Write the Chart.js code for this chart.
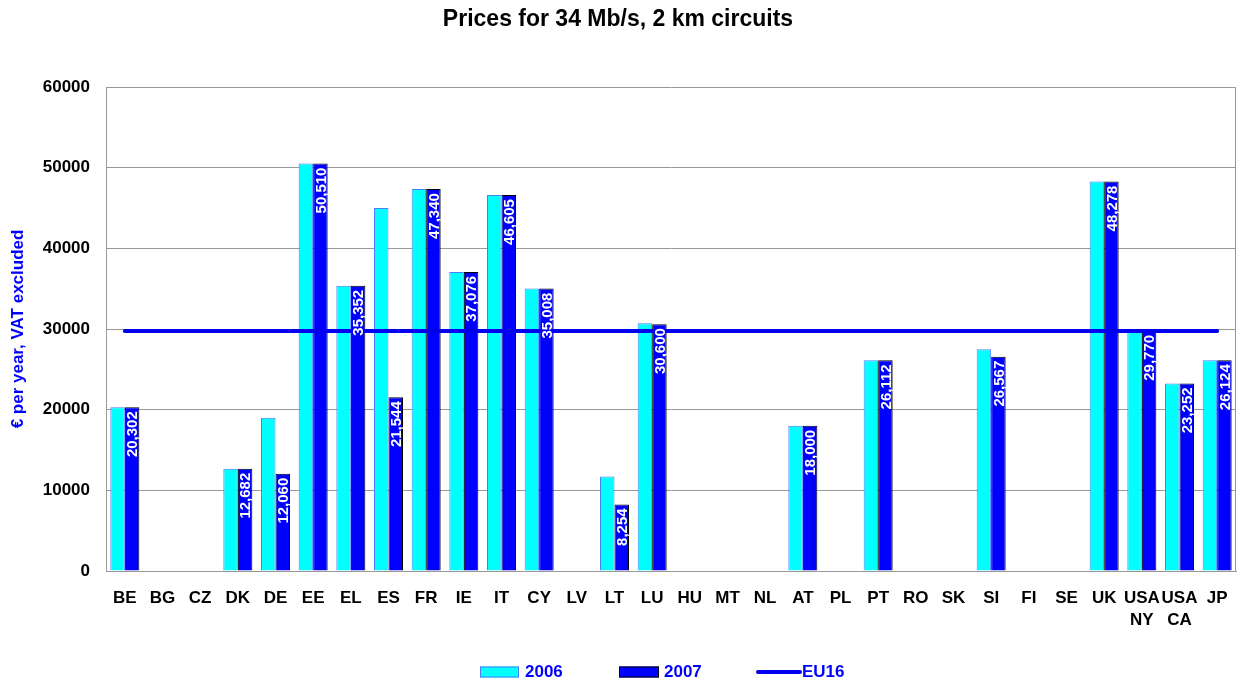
<!DOCTYPE html>
<html>
<head>
<meta charset="utf-8">
<title>Prices for 34 Mb/s, 2 km circuits</title>
<script src="https://cdn.jsdelivr.net/npm/chart.js@4.4.1/dist/chart.umd.min.js"></script>
<style>
    html, body { margin: 0; padding: 0; background: #ffffff; }
    #wrap { width: 1237px; height: 684px; }
</style>
</head>
<body>
<div id="wrap"><canvas id="priceChart"></canvas></div>
<script>
// ================================
// Data
// ================================

const categories = ["BE", "BG", "CZ", "DK", "DE", "EE", "EL", "ES", "FR", "IE", "IT", "CY", "LV", "LT", "LU",
    "HU", "MT", "NL", "AT", "PL", "PT", "RO", "SK", "SI", "FI", "SE", "UK", ["USA", "NY"], ["USA", "CA"], "JP"];

const prices2006 = [20302, null, null, 12682, 19000, 50510, 35352, 45000, 47340, 37076, 46605, 35008, null, 11700, 30700,
    null, null, null, 18000, null, 26112, null, null, 27500, null, null, 48278, 29770, 23252, 26124];

const prices2007 = [20302, null, null, 12682, 12060, 50510, 35352, 21544, 47340, 37076, 46605, 35008, null, 8254, 30600,
    null, null, null, 18000, null, 26112, null, null, 26567, null, null, 48278, 29770, 23252, 26124];

const eu16 = [29750, 29750, 29750, 29750, 29750, 29750, 29750, 29750, 29750, 29750, 29750, 29750, 29750, 29750, 29750,
    29750, 29750, 29750, 29750, 29750, 29750, 29750, 29750, 29750, 29750, 29750, 29750, 29750, 29750, 29750];

const yTicks = [0, 10000, 20000, 30000, 40000, 50000, 60000];

const FONT = "'Liberation Sans', Arial, Helvetica, sans-serif";

// ================================
// Plugins
// ================================

// white rotated value labels inside the 2007 bars
const barLabels = {
    id: "barLabels",
    afterDatasetsDraw(chart) {
        const ctx = chart.ctx;
        const meta = chart.getDatasetMeta(1);
        ctx.save();
        ctx.fillStyle = "#ffffff";
        ctx.font = "bold 15px " + FONT;
        ctx.textAlign = "right";
        ctx.textBaseline = "middle";
        meta.data.forEach((bar, i) => {
            const v = prices2007[i];
            if (v === null) return;
            ctx.save();
            ctx.translate(bar.x + 1, bar.y + 4);
            ctx.rotate(-Math.PI / 2);
            ctx.fillText(v.toLocaleString("en-US"), 0, 0);
            ctx.restore();
        });
        ctx.restore();
    }
};

// right frame line + legend at the bottom
const frameAndLegend = {
    id: "frameAndLegend",
    afterDraw(chart) {
        const ctx = chart.ctx;
        const area = chart.chartArea;

        ctx.save();
        ctx.strokeStyle = "#999999";
        ctx.lineWidth = 1;
        ctx.beginPath();
        ctx.moveTo(Math.round(area.right) - 0.5, area.top);
        ctx.lineTo(Math.round(area.right) - 0.5, area.bottom);
        ctx.stroke();

        const y = 672;
        ctx.font = "bold 17px " + FONT;
        ctx.textBaseline = "middle";
        ctx.textAlign = "left";

        // 2006
        ctx.fillStyle = "#00ffff";
        ctx.strokeStyle = "#4d7dff";
        ctx.fillRect(480, y - 5.5, 39, 11);
        ctx.strokeRect(480.5, y - 5, 38, 10);
        ctx.fillStyle = "#0000ff";
        ctx.fillText("2006", 525, y);

        // 2007
        ctx.fillStyle = "#0000ff";
        ctx.strokeStyle = "#000000";
        ctx.fillRect(619, y - 5.5, 40, 11);
        ctx.strokeRect(619.5, y - 5, 39, 10);
        ctx.fillText("2007", 664, y);

        // EU16
        ctx.strokeStyle = "#0000ee";
        ctx.lineWidth = 4;
        ctx.lineCap = "round";
        ctx.beginPath();
        ctx.moveTo(758, y);
        ctx.lineTo(800, y);
        ctx.stroke();
        ctx.fillStyle = "#0000ff";
        ctx.fillText("EU16", 802, y);
        ctx.restore();
    }
};

// ================================
// Chart
// ================================

const ctx = document.getElementById("priceChart").getContext("2d");

const chart = new Chart(ctx, {
    type: "bar",
    data: {
        labels: categories,
        datasets: [
            {
                label: "2006",
                data: prices2006,
                backgroundColor: "#00ffff",
                borderColor: "#4d7dff",
                borderWidth: 1,
                borderSkipped: "bottom",
                categoryPercentage: 0.77,
                barPercentage: 1.0
            },
            {
                label: "2007",
                data: prices2007,
                backgroundColor: "#0000ff",
                borderColor: "#000000",
                borderWidth: 1,
                borderSkipped: "bottom",
                categoryPercentage: 0.77,
                barPercentage: 1.0
            },
            {
                type: "line",
                label: "EU16",
                data: eu16,
                borderColor: "#0000ee",
                borderWidth: 4,
                borderCapStyle: "round",
                pointRadius: 0,
                fill: false,
                order: -1
            }
        ]
    },
    options: {
        responsive: true,
        maintainAspectRatio: false,
        animation: false,
        layout: {
            padding: { left: 0, right: 1, top: 0, bottom: 0 }
        },
        plugins: {
            legend: { display: false },
            tooltip: { enabled: false },
            title: {
                display: true,
                text: "Prices for 34 Mb/s, 2 km circuits",
                color: "#000000",
                font: { family: FONT, size: 23, weight: "bold" },
                padding: { top: 6, bottom: 53.4 }
            }
        },
        scales: {
            x: {
                grid: { display: false, drawTicks: false },
                border: { display: true, color: "#999999", width: 1 },
                ticks: {
                    color: "#000000",
                    font: { family: FONT, size: 17, weight: "bold", lineHeight: 1.3 },
                    padding: 16,
                    autoSkip: false,
                    maxRotation: 0,
                    minRotation: 0
                },
                afterFit(scale) {
                    scale.height = 113;
                    scale.paddingLeft = 0;
                    scale.paddingRight = 0;
                }
            },
            y: {
                min: 0,
                max: 60000,
                afterBuildTicks(scale) {
                    scale.ticks = yTicks.map(v => ({ value: v }));
                },
                grid: { color: "#999999", lineWidth: 1, drawTicks: false },
                border: { display: true, color: "#999999", width: 1 },
                ticks: {
                    color: "#000000",
                    font: { family: FONT, size: 17, weight: "bold" },
                    padding: 16,
                    callback: v => String(v)
                },
                title: {
                    display: true,
                    text: "€ per year, VAT excluded",
                    color: "#0000ff",
                    font: { family: FONT, size: 17, weight: "bold" },
                    padding: { top: 8, bottom: 0 }
                },
                afterFit(scale) {
                    scale.width = 106;
                }
            }
        }
    },
    plugins: [barLabels, frameAndLegend]
});
</script>
</body>
</html>
